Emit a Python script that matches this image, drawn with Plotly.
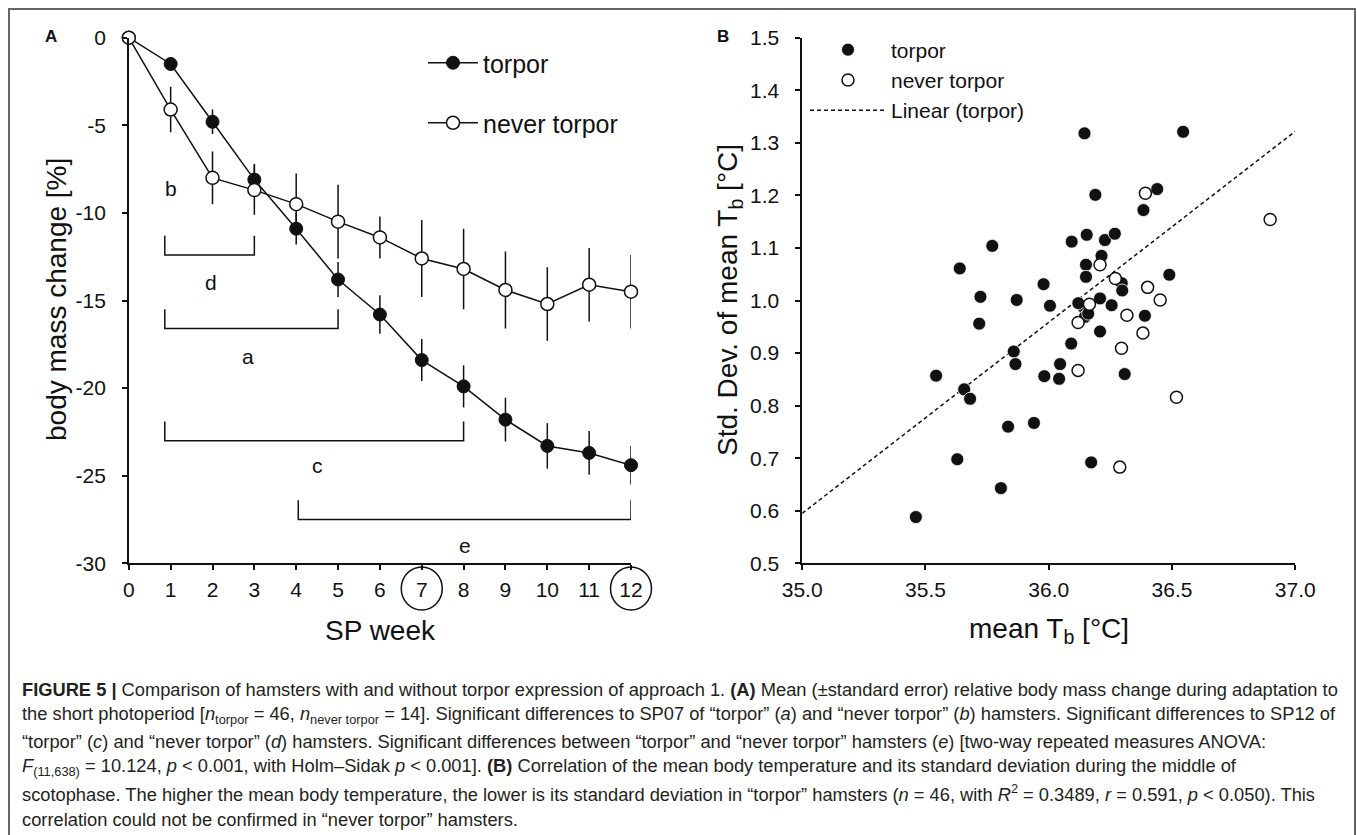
import plotly.graph_objects as go

# ---------------- Panel A data ----------------
weeks = [0, 1, 2, 3, 4, 5, 6, 7, 8, 9, 10, 11, 12]
week_labels = ["0", "1", "2", "3", "4", "5", "6", "7", "8", "9", "10", "11", "12"]
torpor_mass = [0, -1.5, -4.8, -8.1, -10.9, -13.8, -15.8, -18.4, -19.9, -21.8, -23.3, -23.7, -24.4]
torpor_se = [0, 0.3, 0.7, 0.9, 0.9, 1.0, 1.1, 1.2, 1.2, 1.25, 1.3, 1.25, 1.1]
never_mass = [0, -4.1, -8.0, -8.7, -9.5, -10.5, -11.4, -12.6, -13.2, -14.4, -15.2, -14.1, -14.5]
never_se = [0, 1.3, 1.5, 1.4, 1.75, 2.1, 1.2, 2.2, 2.3, 2.2, 2.1, 2.1, 2.1]
mass_ticks = [0, -5, -10, -15, -20, -25, -30]
mass_tick_labels = ["0", "-5", "-10", "-15", "-20", "-25", "-30"]
circled_weeks = [7, 12]

# significance brackets (start week, end week, upper y, lower y)
bracket_start = [0.86, 0.86, 0.86, 4.05]
bracket_end = [3.0, 5.0, 8.0, 12.0]
bracket_top = [-11.3, -15.5, -21.9, -26.4]
bracket_bottom = [-12.4, -16.6, -23.0, -27.5]
sig_labels = ["b", "d", "a", "c", "e"]
sig_label_week = [1.0, 1.97, 2.85, 4.52, 8.04]
sig_label_value = [-8.6, -14.0, -18.2, -24.4, -29.0]

# ---------------- Panel B data ----------------
torpor_tb = [36.145, 36.545, 36.189, 36.44, 36.384, 35.771, 36.093, 36.154, 36.228, 36.268,
             35.639, 36.214, 36.151, 36.151, 36.489, 35.979, 36.296, 36.298, 35.723, 35.870,
             36.005, 36.14, 36.208, 36.255, 36.147, 36.39, 35.718, 36.208, 36.091, 35.858,
             35.865, 36.046, 35.982, 36.042, 35.543, 36.308, 35.657, 35.681, 35.940, 35.835,
             35.629, 36.172, 35.806, 35.461, 36.16, 36.12]
torpor_sd = [1.318, 1.321, 1.201, 1.212, 1.172, 1.104, 1.112, 1.125, 1.115, 1.127,
             1.061, 1.085, 1.068, 1.045, 1.049, 1.031, 1.033, 1.019, 1.007, 1.001,
             0.990, 0.988, 1.004, 0.991, 0.969, 0.971, 0.956, 0.941, 0.918, 0.903,
             0.879, 0.879, 0.856, 0.851, 0.857, 0.860, 0.831, 0.813, 0.767, 0.760,
             0.698, 0.692, 0.643, 0.588, 0.975, 0.995]
never_tb = [36.392, 36.898, 36.208, 36.27, 36.401, 36.452, 36.165, 36.317, 36.119, 36.382,
            36.295, 36.119, 36.518, 36.288]
never_sd = [1.204, 1.154, 1.068, 1.042, 1.025, 1.001, 0.993, 0.972, 0.958, 0.938,
            0.909, 0.867, 0.816, 0.683]
linear_tb = [35.0, 37.0]
linear_sd = [0.595, 1.322]

# ---------------- layout helpers ----------------
W, H = 1357, 835
FONT = "Liberation Sans, Arial, Helvetica, sans-serif"
INK = "#111111"


def fx(p):
    return p / W


def fy(p):
    return 1 - p / H


XA_DOM = [fx(128.8), fx(631)]
XA_RANGE = [0, 12]


def week_to_paper(w):
    return XA_DOM[0] + (w - XA_RANGE[0]) / (XA_RANGE[1] - XA_RANGE[0]) * (XA_DOM[1] - XA_DOM[0])


fig = go.Figure()

# Panel A traces
fig.add_trace(go.Scatter(
    x=weeks, y=torpor_mass, name="torpor", mode="lines+markers",
    line=dict(color=INK, width=1.5),
    marker=dict(symbol="circle", size=13, color=INK, line=dict(color=INK, width=1)),
    error_y=dict(type="data", array=torpor_se, color=INK, thickness=1.5, width=0),
    xaxis="x", yaxis="y", legend="legend", cliponaxis=False))
fig.add_trace(go.Scatter(
    x=weeks, y=never_mass, name="never torpor", mode="lines+markers",
    line=dict(color=INK, width=1.5),
    marker=dict(symbol="circle", size=13, color="white", line=dict(color=INK, width=1.5)),
    error_y=dict(type="data", array=never_se, color=INK, thickness=1.5, width=0),
    xaxis="x", yaxis="y", legend="legend2", cliponaxis=False))

# Panel B traces
fig.add_trace(go.Scatter(
    x=linear_tb, y=linear_sd, name="Linear (torpor)", mode="lines",
    line=dict(color=INK, width=1.5, dash="4px,3px"),
    xaxis="x2", yaxis="y2", legend="legend3", legendrank=3))
fig.add_trace(go.Scatter(
    x=torpor_tb, y=torpor_sd, name="torpor", mode="markers",
    marker=dict(symbol="circle", size=13, color=INK, line=dict(color="white", width=0.8)),
    xaxis="x2", yaxis="y2", legend="legend3", legendrank=1))
fig.add_trace(go.Scatter(
    x=never_tb, y=never_sd, name="never torpor", mode="markers",
    marker=dict(symbol="circle", size=12, color="white", line=dict(color=INK, width=1.5)),
    xaxis="x2", yaxis="y2", legend="legend3", legendrank=2))

shapes = []
# brackets (panel A)
for s, e, t, b in zip(bracket_start, bracket_end, bracket_top, bracket_bottom):
    shapes.append(dict(type="path", xref="x", yref="y",
                       path=f"M {s},{t} L {s},{b} L {e},{b} L {e},{t}",
                       line=dict(color=INK, width=1.5)))
# circles around highlighted week tick labels
for wk in circled_weeks:
    shapes.append(dict(type="circle", xref="paper", yref="paper",
                       x0=week_to_paper(wk) - fx(20.5), x1=week_to_paper(wk) + fx(20.5),
                       y0=fy(610), y1=fy(567),
                       line=dict(color=INK, width=1.5)))
# outer frame
shapes.append(dict(type="rect", xref="paper", yref="paper",
                   x0=fx(9), x1=fx(1355), y0=-0.05, y1=fy(9),
                   line=dict(color="#666666", width=2)))

annotations = []
for lab, wx, vy in zip(sig_labels, sig_label_week, sig_label_value):
    annotations.append(dict(x=wx, y=vy, xref="x", yref="y", text=lab, showarrow=False,
                            xanchor="center", yanchor="middle",
                            font=dict(size=21, color=INK)))


def paper_text(x, y, text, size, angle=0, anchor="center", color=INK):
    return dict(x=fx(x), y=fy(y), xref="paper", yref="paper", text=text, showarrow=False,
                xanchor=anchor, yanchor="middle", textangle=angle,
                font=dict(size=size, color=color))


# panel letters
annotations.append(paper_text(51, 37, "<b>A</b>", 17))
annotations.append(paper_text(723, 36, "<b>B</b>", 17))

# axis titles
annotations += [
    paper_text(57, 300, "body mass change [%]", 28, angle=-90),
    paper_text(380, 630, "SP week", 28),
    paper_text(730, 300, "Std. Dev. of mean T<sub>b</sub> [°C]", 28, angle=-90),
    paper_text(1049, 630, "mean T<sub>b</sub> [°C]", 28),
]

caption_lines = [
    "<b>FIGURE 5 |</b> Comparison of hamsters with and without torpor expression of approach 1. "
    "<b>(A)</b> Mean (±standard error) relative body mass change during adaptation to",
    "the short photoperiod [<i>n</i><sub>torpor</sub> = 46, <i>n</i><sub>never torpor</sub> = 14]. "
    "Significant differences to SP07 of “torpor” (<i>a</i>) and “never torpor” (<i>b</i>) hamsters. "
    "Significant differences to SP12 of",
    "“torpor” (<i>c</i>) and “never torpor” (<i>d</i>) hamsters. Significant differences between "
    "“torpor” and “never torpor” hamsters (<i>e</i>) [two-way repeated measures ANOVA:",
    "<i>F</i><sub>(11,638)</sub> = 10.124, <i>p</i> &lt; 0.001, with Holm–Sidak <i>p</i> &lt; 0.001]. "
    "<b>(B)</b> Correlation of the mean body temperature and its standard deviation during the middle of",
    "scotophase. The higher the mean body temperature, the lower is its standard deviation in "
    "“torpor” hamsters (<i>n</i> = 46, with <i>R</i><sup>2</sup> = 0.3489, <i>r</i> = 0.591, "
    "<i>p</i> &lt; 0.050). This",
    "correlation could not be confirmed in “never torpor” hamsters.",
]
for i, line in enumerate(caption_lines):
    annotations.append(paper_text(20, 689 + 26 * i, line, 18.3, anchor="left", color="#231f20"))

axis_common = dict(showline=True, linecolor=INK, linewidth=1.5, ticks="outside",
                   ticklen=5, tickwidth=1.5, tickcolor=INK, showgrid=False, zeroline=False,
                   tickfont=dict(size=21, color=INK), automargin=False)

fig.update_layout(
    width=W, height=H, margin=dict(l=0, r=0, t=0, b=0),
    paper_bgcolor="white", plot_bgcolor="white",
    font=dict(family=FONT, color=INK),
    xaxis=dict(domain=XA_DOM, range=XA_RANGE, tickvals=weeks, ticktext=week_labels,
               anchor="y", ticklabelstandoff=2, **axis_common),
    yaxis=dict(domain=[fy(563.3), fy(37.7)], range=[-30, 0], tickvals=mass_ticks,
               ticktext=mass_tick_labels, anchor="x", ticklabelstandoff=12, **axis_common),
    xaxis2=dict(domain=[fx(802.2), fx(1295.3)], range=[35, 37], dtick=0.5, tickformat=".1f",
                anchor="y2", ticklabelstandoff=2, **axis_common),
    yaxis2=dict(domain=[fy(563.3), fy(37.7)], range=[0.5, 1.5], dtick=0.1, tickformat=".1f",
                anchor="x2", ticklabelstandoff=12, **axis_common),
    legend=dict(x=fx(423), y=fy(63), xanchor="left", yanchor="middle", itemwidth=50,
                font=dict(size=25, color=INK), bgcolor="rgba(0,0,0,0)"),
    legend2=dict(x=fx(423), y=fy(123), xanchor="left", yanchor="middle", itemwidth=50,
                 font=dict(size=25, color=INK), bgcolor="rgba(0,0,0,0)"),
    legend3=dict(x=fx(805), y=fy(80), xanchor="left", yanchor="middle", itemwidth=76,
                 font=dict(size=21, color=INK), bgcolor="rgba(0,0,0,0)", tracegroupgap=0),
    shapes=shapes, annotations=annotations, showlegend=True,
)

fig.write_html("out.html", config={"displayModeBar": False},
               post_script="document.body.style.margin='0';document.body.style.overflow='hidden';")
